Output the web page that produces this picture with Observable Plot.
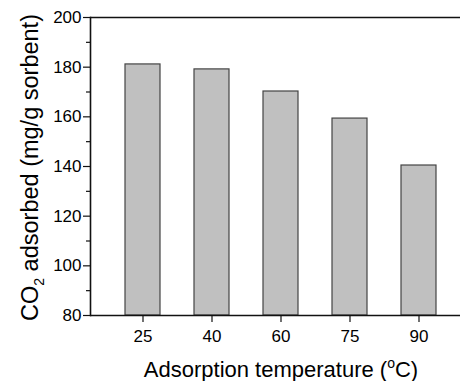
<!DOCTYPE html>
<html>
<head>
<meta charset="utf-8">
<script src="https://cdn.jsdelivr.net/npm/d3@7"></script>
<script src="https://cdn.jsdelivr.net/npm/@observablehq/plot@0.6"></script>
<style>
  html, body { margin: 0; padding: 0; background: #fff; overflow: hidden; }
  #chart { width: 460px; height: 381px; overflow: hidden; }
  svg { font-family: "Liberation Sans", Arial, sans-serif; }
</style>
</head>
<body>
<div id="chart"></div>
<script>
const temps = ["25", "40", "60", "75", "90"];
const co2 = [181.1, 179.1, 170.2, 159.3, 140.4];
const yMajor = [80, 100, 120, 140, 160, 180, 200];
const yMinor = [90, 110, 130, 150, 170, 190];

const data = temps.map((t, i) => ({temp: t, value: co2[i]}));

const plot = Plot.plot({
  width: 460,
  height: 381,
  marginLeft: 90,
  marginTop: 17,
  marginBottom: 66,
  marginRight: 0,
  style: {fontFamily: "Liberation Sans, Arial, sans-serif", fontSize: "17px", color: "#000", background: "#fff"},
  x: {domain: temps, range: [90, 471.5], padding: 0.49, align: 0.5, label: null},
  y: {domain: [80, 200], label: null},
  marks: [
    Plot.barY(data, {x: "temp", y1: 80, y2: "value", fill: "#c0c0c0", stroke: "#444", strokeWidth: 1.2}),
    Plot.ruleY([80, 200], {stroke: "#111", strokeWidth: 1.6}),
    Plot.frame({anchor: "left", stroke: "#111", strokeWidth: 1.6}),
    Plot.axisY({ticks: yMajor, tickSize: 7, tickPadding: 2, fontSize: 17, label: null, stroke: "#111", strokeWidth: 1.2, fill: "#000"}),
    Plot.axisY({ticks: yMinor, tickSize: 4, text: null, label: null, stroke: "#111", strokeWidth: 1.2}),
    Plot.axisX({tickSize: 7, tickPadding: 7, fontSize: 17, label: null, stroke: "#111", strokeWidth: 1.2, fill: "#000"})
  ]
});

document.getElementById("chart").appendChild(plot);

const svg = d3.select(plot);
// X axis title
const xt = svg.append("text")
  .attr("x", 281).attr("y", 377)
  .attr("text-anchor", "middle")
  .attr("font-size", 22).attr("fill", "#000");
xt.append("tspan").text("Adsorption temperature (");
xt.append("tspan").text("o").attr("font-size", 14).attr("dy", -9);
xt.append("tspan").text("C)").attr("dy", 9);

// Y axis title
const yt = svg.append("text")
  .attr("transform", "translate(38,167.5) rotate(-90)")
  .attr("text-anchor", "middle")
  .attr("font-size", 23.5).attr("fill", "#000");
yt.append("tspan").text("CO");
yt.append("tspan").text("2").attr("font-size", 14).attr("dy", 6);
yt.append("tspan").text(" adsorbed (mg/g sorbent)").attr("dy", -6);
</script>
</body>
</html>
